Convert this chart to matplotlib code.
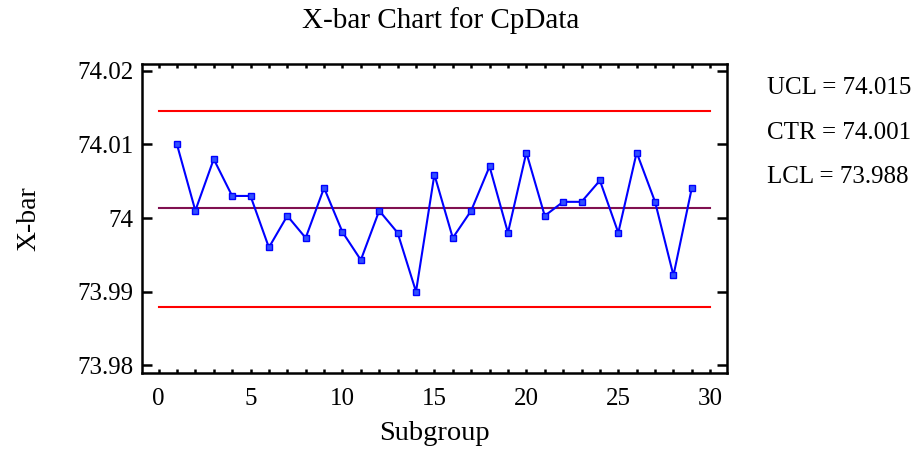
import matplotlib
matplotlib.use("Agg")
import matplotlib.pyplot as plt
from matplotlib.ticker import MultipleLocator

# Subgroup means
subgroups = list(range(1, 30))
xbar = [74.010, 74.001, 74.008, 74.003, 74.003, 73.996, 74.0003, 73.9973,
        74.0041, 73.9981, 73.9943, 74.001, 73.998, 73.990, 74.0059, 73.9973,
        74.001, 74.007, 73.998, 74.0089, 74.0003, 74.0022, 74.0022, 74.0051,
        73.998, 74.0089, 74.0022, 73.9922, 74.0041]

ucl, ctr, lcl = 74.0146, 74.0013, 73.9879
limit_labels = ["UCL = 74.015", "CTR = 74.001", "LCL = 73.988"]
ytick_vals = [73.98, 73.99, 74.0, 74.01, 74.02]
ytick_text = ["73.98", "73.99", "74", "74.01", "74.02"]

plt.rcParams['font.family'] = ['Liberation Serif', 'DejaVu Serif']

fig = plt.figure(figsize=(9.18, 4.55), dpi=100)
ax = fig.add_axes([0.1547, 0.181, 0.637, 0.678])

# control limits
ax.plot([0, 30], [ucl, ucl], color='#ff0000', lw=1.5)
ax.plot([0, 30], [lcl, lcl], color='#ff0000', lw=1.5)
ax.plot([0, 30], [ctr, ctr], color='#801050', lw=1.5)

ax.plot(subgroups, xbar, color='#0000ff', lw=1.5, marker='s', markersize=4,
        markerfacecolor='#3050ff', markeredgecolor='#0000ff')

ax.set_xlim(-0.9, 30.9)
ax.set_ylim(73.979, 74.0209)
ax.xaxis.set_major_locator(MultipleLocator(5))
ax.xaxis.set_minor_locator(MultipleLocator(1))
ax.set_yticks(ytick_vals)
ax.set_yticklabels(ytick_text)

ax.tick_params(axis='x', which='both', direction='in', length=3, width=1.8,
               top=True, labelsize=18, pad=11)
ax.tick_params(axis='y', direction='in', length=7.5, width=1.8, right=True,
               labelsize=18, pad=6)
for s in ax.spines.values():
    s.set_linewidth(1.8)

ax.set_xlabel('Subgroup', fontsize=20.5, labelpad=8)
ax.set_ylabel('X-bar', fontsize=20, labelpad=26)
fig.text(441 / 918, 1 - 28 / 455, 'X-bar Chart for CpData', fontsize=21,
         ha='center', va='baseline')

for i, txt in enumerate(limit_labels):
    fig.text(767 / 918, 1 - (88.5 + i * 44.3) / 455, txt, fontsize=18,
             va='center', ha='left')

fig.savefig('out.png', dpi=100)
